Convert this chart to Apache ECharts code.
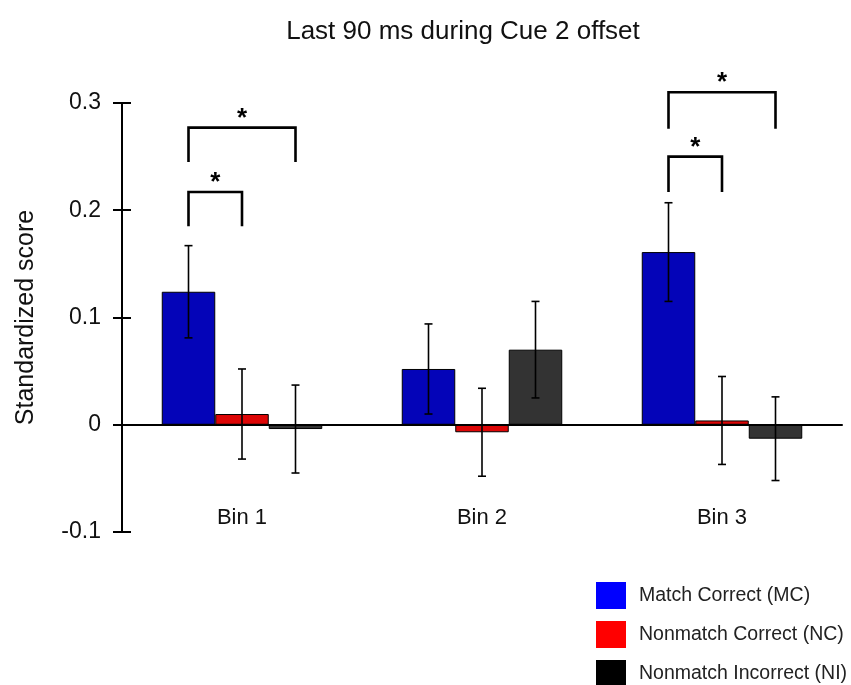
<!DOCTYPE html>
<html>
<head>
<meta charset="utf-8">
<script src="https://cdn.jsdelivr.net/npm/echarts@6/dist/echarts.min.js"></script>
<style>
  html, body { margin: 0; padding: 0; background: #fff; }
  #chart { width: 851px; height: 685px; }
</style>
</head>
<body>
<div id="chart"></div>
<script>
// Time bins on the x axis
const categories = ['Bin 1', 'Bin 2', 'Bin 3'];
const seriesNames = ['Match Correct (MC)', 'Nonmatch Correct (NC)', 'Nonmatch Incorrect (NI)'];

// Mean standardized score per bin
const mcMean = [0.124, 0.052, 0.161];
const ncMean = [0.010, -0.007, 0.004];
const niMean = [-0.004, 0.070, -0.013];

// Standard error per bin
const mcSem = [0.043, 0.042, 0.046];
const ncSem = [0.042, 0.041, 0.041];
const niSem = [0.041, 0.045, 0.039];

// Significance brackets: bin, first and second condition index, bracket top, leg length
const sigBin = [0, 0, 2, 2];
const sigFrom = [0, 0, 0, 0];
const sigTo = [1, 2, 1, 2];
const sigTop = [0.217, 0.277, 0.250, 0.310];
const sigLeg = [0.032, 0.032, 0.033, 0.034];
const sigMark = ['*', '*', '*', '*'];

const barColors = ['#0404b8', '#dd0606', '#333333'];
const legendColors = ['#0000ff', '#ff0000', '#000000'];
const BAR_W = 53.5;
const FONT = '"Liberation Sans", Arial, sans-serif';

const means = [mcMean, ncMean, niMean];
const sems = [mcSem, ncSem, niSem];

const errData = [];
means.forEach((arr, g) => arr.forEach((m, i) => errData.push([i, g, m, sems[g][i]])));

const sigData = sigBin.map((b, k) => [b, sigFrom[k], sigTo[k], sigTop[k], sigLeg[k]]);

const chart = echarts.init(document.getElementById('chart'), null, { renderer: 'canvas' });

const barSeries = seriesNames.map((name, g) => ({
  name: name,
  type: 'bar',
  data: means[g],
  barWidth: BAR_W,
  barGap: '0%',
  itemStyle: { color: barColors[g], borderColor: '#000', borderWidth: 1 },
  z: 2
}));

chart.setOption({
  animation: false,
  backgroundColor: '#fff',
  textStyle: { fontFamily: FONT },
  title: {
    text: 'Last 90 ms during Cue 2 offset',
    left: 458, top: 14, textAlign: 'center',
    textStyle: { fontFamily: FONT, fontSize: 26, fontWeight: 'normal', color: '#111' }
  },
  legend: {
    orient: 'vertical',
    left: 596, top: 582, width: 255, height: 140,
    padding: 0,
    icon: 'rect',
    itemWidth: 30, itemHeight: 27, itemGap: 12,
    textStyle: { fontFamily: FONT, fontSize: 19.5, color: '#222', padding: [0, 0, 0, 8] },
    data: seriesNames.map((n, g) => ({ name: n, itemStyle: { color: legendColors[g], borderWidth: 0 } }))
  },
  grid: { left: 122, right: 9, top: 103, bottom: 153 },
  xAxis: {
    type: 'category',
    data: categories,
    axisLine: { onZero: true, lineStyle: { color: '#000', width: 2 } },
    axisTick: { show: false },
    axisLabel: { margin: -25, fontFamily: FONT, fontSize: 22, color: '#111' },
    z: 5
  },
  yAxis: [{
    type: 'value',
    min: -0.1, max: 0.3, interval: 0.1,
    name: 'Standardized score',
    nameLocation: 'middle', nameGap: 83, nameRotate: 90,
    nameTextStyle: { fontFamily: FONT, fontSize: 25, color: '#111' },
    axisLine: { show: true, lineStyle: { color: '#000', width: 2 } },
    axisTick: { show: true, length: 9, lineStyle: { color: '#000', width: 2 } },
    axisLabel: { margin: 21, fontFamily: FONT, fontSize: 23, color: '#111' },
    splitLine: { show: false }
  }, {
    type: 'value',
    position: 'left',
    min: -0.1, max: 0.3, interval: 0.1,
    axisLine: { show: false },
    axisTick: { show: true, inside: true, length: 9, lineStyle: { color: '#000', width: 2 } },
    axisLabel: { show: false },
    splitLine: { show: false }
  }],
  series: barSeries.concat([{
    type: 'custom',
    name: 'sem',
    data: errData,
    encode: { x: 0, y: 2 },
    z: 4,
    silent: true,
    renderItem: function (params, api) {
      const cat = api.value(0), g = api.value(1), m = api.value(2), s = api.value(3);
      const x = api.coord([cat, m])[0] + (g - 1) * BAR_W;
      const yt = api.coord([cat, m + s])[1];
      const yb = api.coord([cat, m - s])[1];
      const st = { stroke: '#000', lineWidth: 1.6 };
      return {
        type: 'group',
        children: [
          { type: 'line', shape: { x1: x, y1: yt, x2: x, y2: yb }, style: st },
          { type: 'line', shape: { x1: x - 4, y1: yt, x2: x + 4, y2: yt }, style: st },
          { type: 'line', shape: { x1: x - 4, y1: yb, x2: x + 4, y2: yb }, style: st }
        ]
      };
    }
  }, {
    type: 'custom',
    name: 'sig',
    data: sigData,
    encode: { x: 0, y: 3 },
    z: 4,
    silent: true,
    clip: false,
    renderItem: function (params, api) {
      const cat = api.value(0), a = api.value(1), b = api.value(2);
      const top = api.value(3), leg = api.value(4);
      const cx = api.coord([cat, top])[0];
      const x1 = cx + (a - 1) * BAR_W;
      const x2 = cx + (b - 1) * BAR_W;
      const yt = api.coord([cat, top])[1];
      const yl = api.coord([cat, top - leg])[1];
      return {
        type: 'group',
        children: [
          { type: 'polyline', shape: { points: [[x1, yl], [x1, yt], [x2, yt], [x2, yl]] },
            style: { stroke: '#000', lineWidth: 2.6, fill: null } },
          { type: 'text', style: { x: (x1 + x2) / 2, y: yt + 4, text: sigMark[params.dataIndex],
            fontFamily: FONT, fontSize: 26, fontWeight: 'bold', fill: '#000',
            align: 'center', verticalAlign: 'bottom' } }
        ]
      };
    }
  }])
});
</script>
</body>
</html>
